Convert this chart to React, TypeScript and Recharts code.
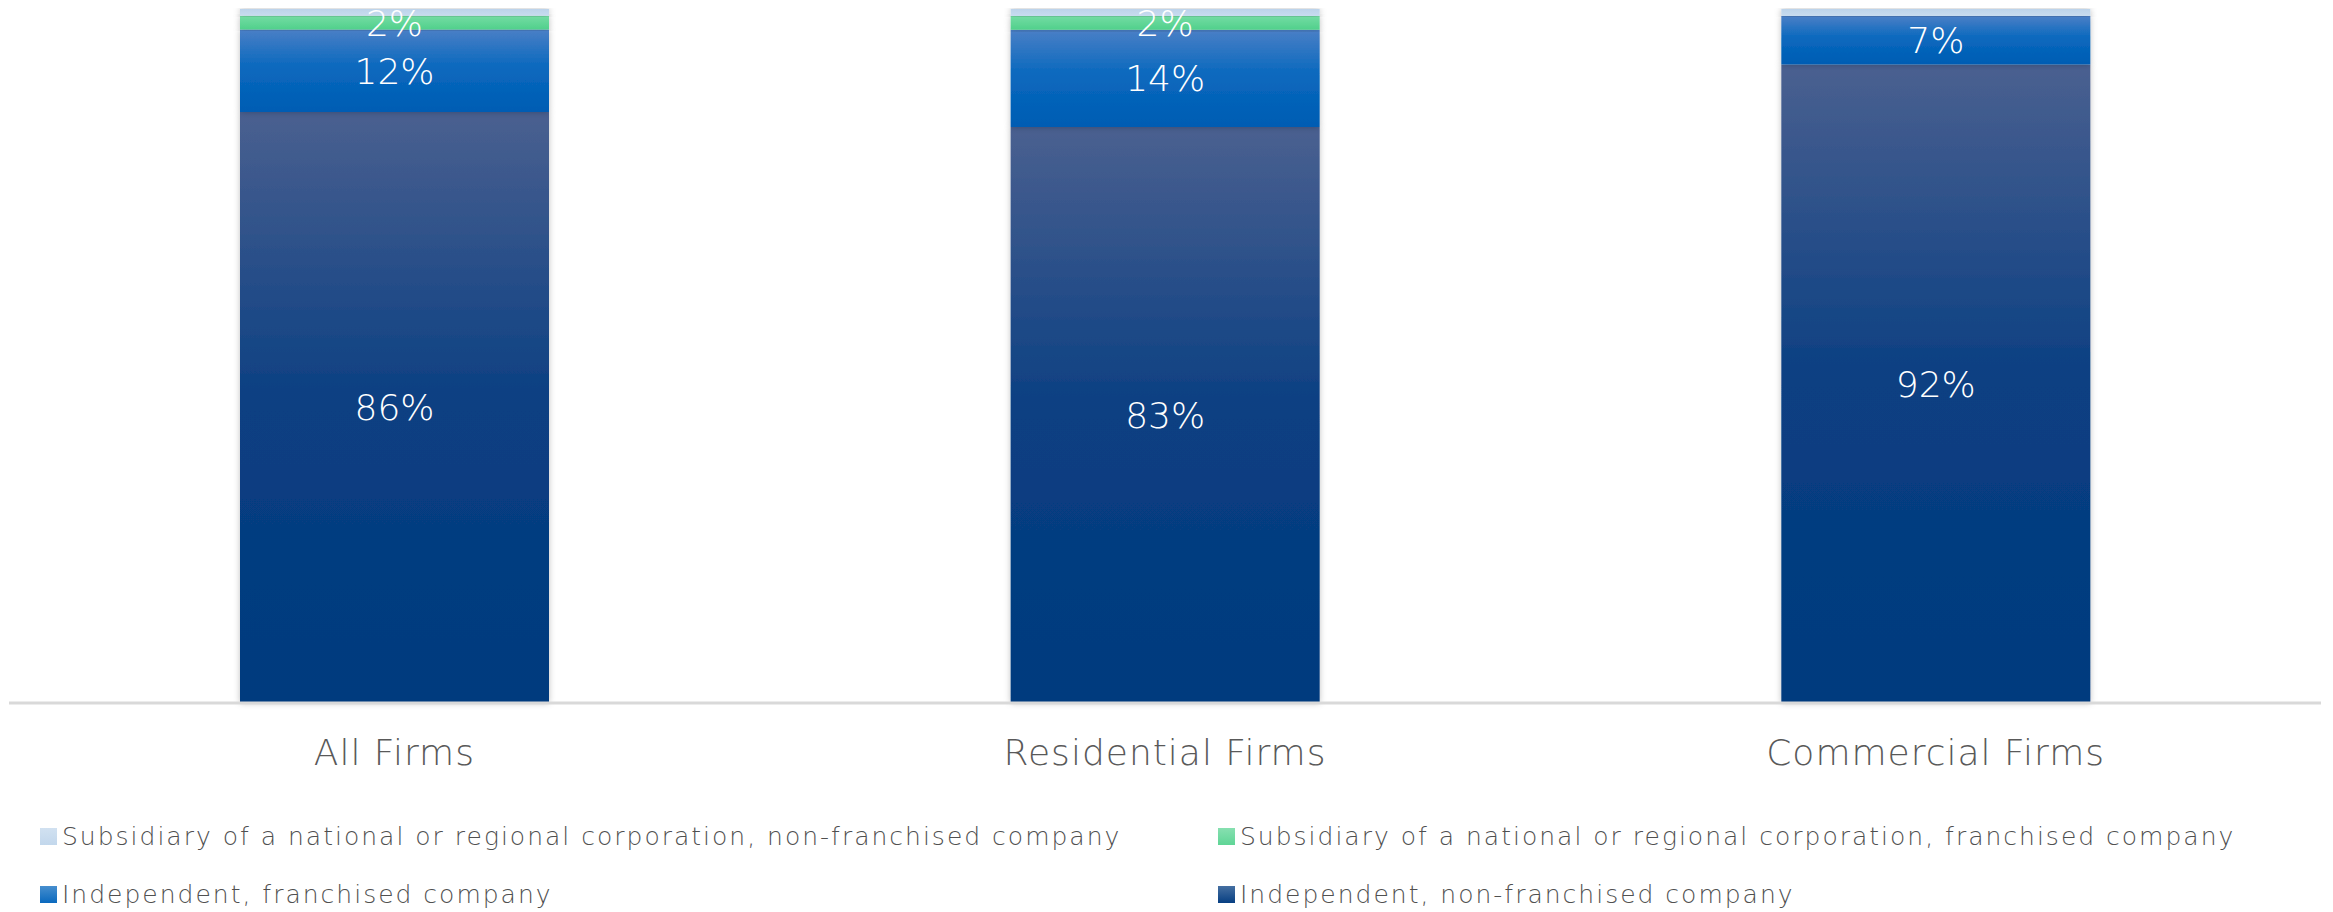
import { Bar, BarChart, LabelList, XAxis, YAxis } from 'recharts';

const CATEGORIES = ['All Firms', 'Residential Firms', 'Commercial Firms'];
const SUB_NON_FRANCHISED = [1, 1, 1];
const SUB_FRANCHISED = [2, 2, 0];
const IND_FRANCHISED = [12, 14, 7];
const IND_NON_FRANCHISED = [86, 83, 92];

const SERIES = [
  { key: 'indNon', name: 'Independent, non-franchised company', grad: 'gDark', swatch: '#073f82', label: true },
  { key: 'indFr', name: 'Independent, franchised company', grad: 'gBlue', swatch: '#0a69be', label: true },
  { key: 'subFr', name: 'Subsidiary of a national or regional corporation, franchised company', grad: 'gGreen', swatch: '#5fd596', label: true },
  { key: 'subNon', name: 'Subsidiary of a national or regional corporation, non-franchised company', grad: 'gLight', swatch: '#c2d7ec', label: false },
];

const LEGEND_ORDER = ['subNon', 'subFr', 'indFr', 'indNon'];

const data = CATEGORIES.map((name, i) => ({
  name,
  indNon: IND_NON_FRANCHISED[i],
  indFr: IND_FRANCHISED[i],
  subFr: SUB_FRANCHISED[i],
  subNon: SUB_NON_FRANCHISED[i],
}));

const FONT = '"DejaVu Sans", sans-serif';

function LegendGrid() {
  return (
    <div
      style={{
        position: 'absolute',
        left: 40,
        top: 818,
        display: 'grid',
        gridTemplateColumns: '1178px 1100px',
        rowGap: 22,
        fontFamily: FONT,
        fontSize: 25,
        fontWeight: 200,
        letterSpacing: 2,
        color: '#505050',
        whiteSpace: 'nowrap',
      }}
    >
      {LEGEND_ORDER.map((k) => {
        const s = SERIES.find((x) => x.key === k)!;
        return (
          <div key={k} style={{ display: 'flex', alignItems: 'center', height: 36 }}>
            <svg width={17} height={17} style={{ marginRight: 5 }}>
              <defs>
                <linearGradient id={`${s.grad}L`} x1="0" y1="0" x2="0" y2="1">
                  <stop offset="0%" stopColor={s.swatch} stopOpacity={0.75} />
                  <stop offset="100%" stopColor={s.swatch} />
                </linearGradient>
              </defs>
              <rect width={17} height={17} fill={`url(#${s.grad}L)`} />
            </svg>
            <span>{s.name}</span>
          </div>
        );
      })}
    </div>
  );
}

export default function App() {
  return (
    <div style={{ position: 'absolute', left: 0, top: 0, width: 2333, height: 912, background: '#fff' }}>
      <BarChart
        width={2333}
        height={912}
        data={data}
        stackOffset="expand"
        margin={{ top: 9, right: 12, bottom: 119, left: 9 }}
        barSize={309}
      >
        <defs>
          <linearGradient id="gDark" x1="0" y1="0" x2="0" y2="1">
            <stop offset="0%" stopColor="#4a6090" />
            <stop offset="50%" stopColor="#0a3f82" />
            <stop offset="100%" stopColor="#003a7e" />
          </linearGradient>
          <linearGradient id="gBlue" x1="0" y1="0" x2="0" y2="1">
            <stop offset="0%" stopColor="#4a7fc6" />
            <stop offset="45%" stopColor="#0a69be" />
            <stop offset="100%" stopColor="#005cb3" />
          </linearGradient>
          <linearGradient id="gGreen" x1="0" y1="0" x2="0" y2="1">
            <stop offset="0%" stopColor="#74dca4" />
            <stop offset="100%" stopColor="#50d08b" />
          </linearGradient>
          <linearGradient id="gLight" x1="0" y1="0" x2="0" y2="1">
            <stop offset="0%" stopColor="#bcd3ea" />
            <stop offset="100%" stopColor="#c8dcef" />
          </linearGradient>
          <filter id="shadow" x="-10%" y="-10%" width="120%" height="120%">
            <feDropShadow dx="0" dy="0" stdDeviation="3" floodColor="#000" floodOpacity="0.25" />
          </filter>
        </defs>
        <XAxis
          dataKey="name"
          axisLine={{ stroke: '#d9d9d9', strokeWidth: 3 }}
          tickLine={false}
          tick={{ fill: '#595959', fontSize: 36, fontFamily: FONT, fontWeight: 200, letterSpacing: 1 }}
          tickMargin={30}
          height={90}
        />
        <YAxis hide domain={[0, 1]} />
        {SERIES.map((s) => (
          <Bar
            key={s.key}
            dataKey={s.key}
            name={s.name}
            stackId="a"
            fill={`url(#${s.grad})`}
            filter="url(#shadow)"
            isAnimationActive={false}
          >
            {s.label && (
              <LabelList
                dataKey={s.key}
                position="center"
                fill="#fff"
                fontSize={36}
                fontFamily={FONT}
                fontWeight={200}
                formatter={(v: number) => (v ? `${v}%` : '')}
              />
            )}
          </Bar>
        ))}
      </BarChart>
      <LegendGrid />
    </div>
  );
}
